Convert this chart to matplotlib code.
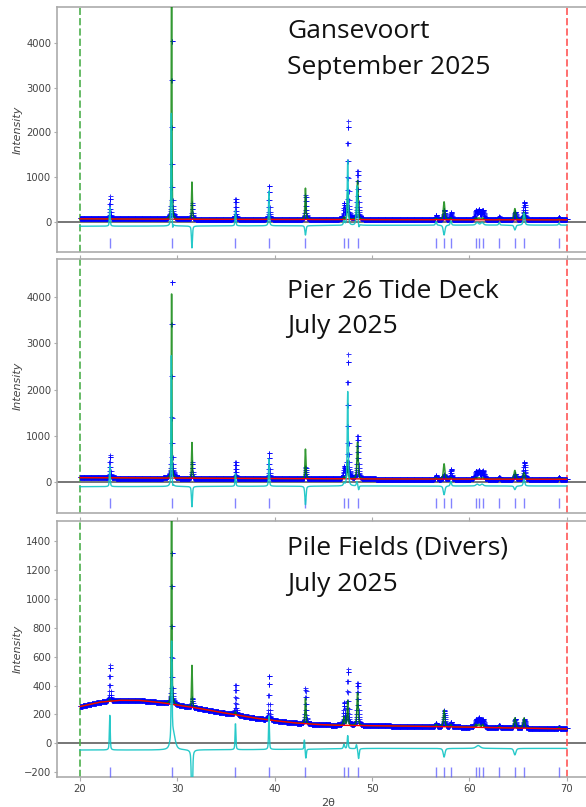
import numpy as np
import matplotlib
matplotlib.use("Agg")
import matplotlib.pyplot as plt

# ---------------- data ----------------
scan_start, scan_end, scan_step = 20.0, 70.0, 0.02

titles_line1 = ["Gansevoort", "Pier 26 Tide Deck", "Pile Fields (Divers)"]
titles_line2 = ["September 2025", "July 2025", "July 2025"]

# reflection (tick) positions, 2theta
reflections = [23.06, 29.41, 35.97, 39.41, 43.16, 47.12, 47.50, 48.51, 56.57,
               57.40, 58.09, 60.68, 60.98, 61.36, 63.06, 64.67, 65.61, 69.20]

# peak positions shared by observed / calculated profiles
peak_pos = [23.06, 29.41, 31.50, 35.97, 39.41, 43.16, 47.12, 47.50, 48.51, 56.57,
            57.40, 58.09, 60.68, 60.98, 61.36, 63.06, 64.67, 65.61, 69.20]
obs_fwhm = [0.11, 0.10, 0.10, 0.11, 0.11, 0.13, 0.16, 0.14, 0.17, 0.16,
            0.18, 0.16, 0.25, 0.25, 0.25, 0.16, 0.20, 0.20, 0.16]
calc_fwhm = [0.10, 0.07, 0.10, 0.10, 0.10, 0.12, 0.15, 0.12, 0.15, 0.15,
             0.18, 0.15, 0.20, 0.20, 0.20, 0.15, 0.20, 0.20, 0.15]

# background knots (2theta) shared by all panels
bg_x = [20, 22, 24, 26, 28, 30, 32, 34, 36, 38, 40, 42, 44, 46, 50, 55, 60, 65, 70]

# ---- Panel 1: Gansevoort ----
p1_bg = [70, 68, 67, 66, 64, 62, 61, 60, 59, 58, 57, 56, 55, 54, 52, 51, 50, 49, 48]
p1_obs_base = [82, 80, 79, 78, 76, 75, 74, 73, 72, 71, 70, 69, 68, 67, 65, 64, 62, 61, 60]
p1_obs = [490, 4100, 350, 460, 750, 530, 330, 2180, 1090, 90,
          200, 160, 190, 200, 200, 60, 170, 380, 60]
p1_calc = [40, 6500, 830, 80, 60, 700, 50, 600, 880, 30,
           400, 40, 40, 40, 40, 20, 250, 170, 20]
p1_diff_base = [-95, -94, -93, -92, -91, -90, -89, -88, -87, -86, -85, -83, -81, -79, -75, -72, -70, -70, -70]
p1_diff_pos = [23.06, 29.38, 29.52, 31.50, 35.97, 39.41, 43.16, 47.12, 47.50, 48.45, 48.65,
               56.57, 57.40, 58.09, 60.80, 61.30, 63.06, 64.67, 65.61, 69.20]
p1_diff_hgt = [420, 2520, -120, -490, 360, 800, -210, 100, 1450, 900, -80,
               80, -220, 100, 60, 60, 50, -110, 270, 40]
p1_diff_fwhm = [0.10, 0.08, 0.08, 0.12, 0.10, 0.10, 0.14, 0.15, 0.12, 0.14, 0.12,
                0.15, 0.20, 0.15, 0.30, 0.30, 0.15, 0.20, 0.18, 0.15]

# ---- Panel 2: Pier 26 Tide Deck ----
p2_bg = [100, 98, 96, 94, 92, 90, 88, 86, 84, 82, 80, 78, 76, 74, 72, 70, 68, 66, 65]
p2_obs_base = [105, 103, 101, 99, 97, 95, 93, 91, 89, 87, 85, 84, 83, 82, 80, 78, 75, 73, 72]
p2_obs = [490, 4380, 340, 350, 560, 250, 220, 2680, 920, 70,
          90, 210, 160, 170, 170, 40, 100, 360, 40]
p2_calc = [30, 4250, 770, 60, 50, 640, 40, 400, 800, 30,
           330, 30, 30, 30, 30, 20, 190, 140, 20]
p2_diff_base = [-95, -94, -93, -92, -91, -90, -89, -88, -87, -86, -85, -84, -83, -82, -80, -80, -80, -80, -80]
p2_diff_pos = [23.06, 29.30, 29.38, 29.52, 31.50, 35.97, 39.41, 43.16, 47.12, 47.50, 48.45, 48.62,
               57.40, 58.09, 60.80, 61.30, 64.67, 65.61]
p2_diff_hgt = [450, -80, 2830, -80, -440, 285, 610, -400, 60, 2040, 100, -90,
               -190, 100, 40, 40, -80, 150]
p2_diff_fwhm = [0.10, 0.06, 0.08, 0.06, 0.12, 0.10, 0.10, 0.14, 0.15, 0.12, 0.14, 0.12,
                0.20, 0.15, 0.30, 0.30, 0.20, 0.18]

# ---- Panel 3: Pile Fields (Divers) ----
p3_bg = [255, 285, 298, 298, 285, 265, 245, 220, 198, 175, 157, 142, 132, 126, 122, 118, 112, 106, 100]
p3_obs_base = [258, 288, 301, 301, 288, 268, 248, 223, 201, 178, 160, 145, 135, 129, 125, 121, 115, 109, 103]
p3_obs = [250, 1080, 60, 210, 310, 245, 150, 385, 295, 20,
          110, 30, 50, 60, 50, 15, 60, 60, 10]
p3_calc = [15, 2000, 290, 20, 15, 175, 60, 170, 230, 15,
           115, 15, 20, 20, 20, 10, 70, 70, 10]
p3_diff_base = [-46, -46, -46, -46, -46, -45, -45, -44, -44, -43, -42, -41, -40, -38, -35, -35, -35, -35, -35]
p3_diff_pos = [23.06, 29.41, 29.55, 31.50, 35.97, 39.41, 43.05, 43.20, 47.12, 47.50, 48.40, 48.62,
               57.40, 60.90, 64.67]
p3_diff_hgt = [240, 680, 120, -420, 185, 240, 70, -65, 30, 90, 30, -70,
               -60, 20, -45]
p3_diff_fwhm = [0.10, 0.10, 0.50, 0.14, 0.10, 0.10, 0.10, 0.12, 0.15, 0.12, 0.12, 0.14,
                0.22, 0.5, 0.25]

ylims = [(-670, 4800), (-663, 4820), (-233, 1540)]
yticks = [[0, 1000, 2000, 3000, 4000], [0, 1000, 2000, 3000, 4000],
          list(range(-200, 1401, 200))]
refl_y = [-460, -455, -197]
xticks = [20, 30, 40, 50, 60, 70]

panels = [
    (p1_bg, p1_obs_base, p1_obs, p1_calc, p1_diff_base, p1_diff_pos, p1_diff_hgt, p1_diff_fwhm),
    (p2_bg, p2_obs_base, p2_obs, p2_calc, p2_diff_base, p2_diff_pos, p2_diff_hgt, p2_diff_fwhm),
    (p3_bg, p3_obs_base, p3_obs, p3_calc, p3_diff_base, p3_diff_pos, p3_diff_hgt, p3_diff_fwhm),
]


# ---------------- profile construction ----------------
def pvoigt(x, pos, h, w, eta=0.5):
    d = (x - pos) / w
    g = np.exp(-4 * np.log(2) * d * d)
    lor = 1.0 / (1.0 + 4 * d * d)
    return h * (eta * lor + (1 - eta) * g)


def profile(x, base_x, base_y, pos, hgt, fwhm):
    y = np.interp(x, base_x, base_y).astype(float)
    for p, h, w in zip(pos, hgt, fwhm):
        y += pvoigt(x, p, h, w)
    return y


tth = np.arange(scan_start, scan_end + scan_step / 2, scan_step)

# ---------------- figure ----------------
W, H = 586, 807
fig = plt.figure(figsize=(W / 100, H / 100), dpi=100)

ax_left_px, ax_right_px = 57, 600
x20_px, px_per_deg = 80.0, 9.735
xlim = (20 + (ax_left_px - x20_px) / px_per_deg, 20 + (ax_right_px - x20_px) / px_per_deg)
panel_px = [(7, 252), (259, 513), (521, 777)]
title_px = [((287.3, 38.3), (287.3, 74.0)),
            ((287.3, 298.3), (287.3, 333.3)),
            ((287.3, 554.3), (287.3, 591.0))]

spine_col = "#ababab"
tick_col = "#444444"

for i, (top, bot) in enumerate(panel_px):
    bg, obs_base, obs_h, calc_h, dbase, dpos, dhgt, dfw = panels[i]
    ax = fig.add_axes([ax_left_px / W, 1 - bot / H,
                       (ax_right_px - ax_left_px) / W, (bot - top) / H])
    obs = profile(tth, bg_x, obs_base, peak_pos, obs_h, obs_fwhm)
    calc = profile(tth, bg_x, bg, peak_pos, calc_h, calc_fwhm)
    bgc = np.interp(tth, bg_x, bg)
    diff = profile(tth, bg_x, dbase, dpos, dhgt, dfw)

    ax.plot(tth, obs, ls="none", marker="+", ms=3.6, mew=0.7, color="#0000ff",
            alpha=0.8, zorder=2)
    ax.plot(tth, calc, color="#008000", lw=1.1, alpha=0.8, zorder=3)
    ax.plot(tth, bgc, color="#ff0000", lw=1.0, zorder=4)
    ax.plot(tth, diff, color="#10c4c4", lw=1.0, alpha=0.9, zorder=5)
    ax.plot(reflections, [refl_y[i]] * len(reflections), ls="none", marker="|",
            ms=6.5, mew=1.0, color="#5a5aff", alpha=0.75, zorder=3)
    ax.axhline(0, color="#333333", lw=1.1, alpha=0.85, zorder=1)
    ax.axvline(20, color="#4caf4c", ls="--", lw=1.4, alpha=0.85, zorder=1)
    ax.axvline(70, color="#ff5555", ls="--", lw=1.4, alpha=0.85, zorder=1)

    ax.set_xlim(*xlim)
    ax.set_ylim(*ylims[i])
    ax.set_yticks(yticks[i])
    ax.set_xticks(xticks)
    for s in ax.spines.values():
        s.set_color(spine_col)
        s.set_linewidth(1.2)
    ax.tick_params(axis="y", length=2, pad=2, labelsize=7.2, colors=tick_col,
                   color=spine_col)
    if i == 0:
        ax.tick_params(axis="x", bottom=False, labelbottom=False)
    elif i == 1:
        ax.tick_params(axis="x", bottom=False, labelbottom=False, top=True,
                       labeltop=False, length=3, color=spine_col)
    else:
        ax.tick_params(axis="x", bottom=True, top=True, labeltop=False, length=3,
                       pad=2, labelsize=7.2, colors=tick_col, color=spine_col)
        ax.set_xlabel("2θ", fontsize=8, color=tick_col, labelpad=3)
    ax.set_ylabel("Intensity", fontsize=8, style="italic", color=tick_col)
    ax.yaxis.set_label_coords((23 - ax_left_px) / (ax_right_px - ax_left_px), 0.5)

    (x1, y1), (x2, y2) = title_px[i]
    fig.text(x1 / W, 1 - y1 / H, titles_line1[i], fontsize=19, family="Open Sans",
             va="baseline", ha="left", color="#111111")
    fig.text(x2 / W, 1 - y2 / H, titles_line2[i], fontsize=19, family="Open Sans",
             va="baseline", ha="left", color="#111111")

fig.savefig("out.png", dpi=100)
